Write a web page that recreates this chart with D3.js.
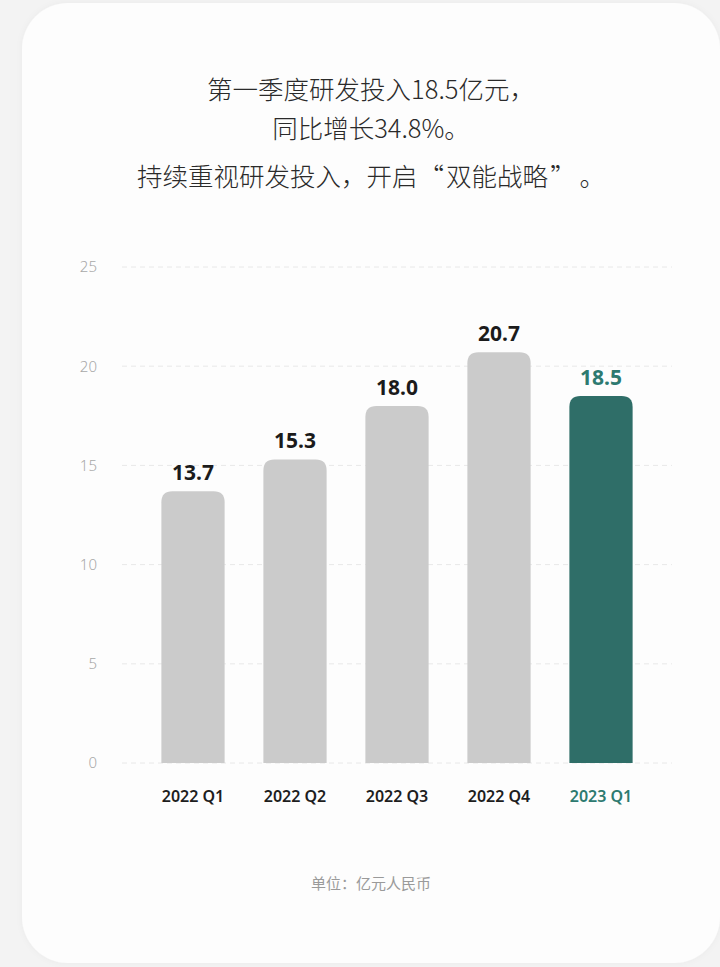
<!DOCTYPE html>
<html>
<head>
<meta charset="utf-8">
<script src="https://cdn.jsdelivr.net/npm/d3@7"></script>
<style>
  html, body { margin: 0; padding: 0; background: #f3f3f3; }
  svg { display: block; }
</style>
</head>
<body>
<svg id="chart" width="720" height="967"></svg>
<script>
const categories = ["2022 Q1", "2022 Q2", "2022 Q3", "2022 Q4", "2023 Q1"];
const values = [13.7, 15.3, 18.0, 20.7, 18.5];
const yTicks = [0, 5, 10, 15, 20, 25];
const titleLines = ["第一季度研发投入18.5亿元，", "同比增长34.8%。", "持续重视研发投入，开启“双能战略”。"];
const unitNote = "单位：亿元人民币";
const highlightIndex = 4;

const svg = d3.select("#chart");
const W = 720, H = 967;
const cjk = "'Noto Sans CJK SC', 'Noto Sans', sans-serif";
const latin = "'Noto Sans', 'Open Sans', sans-serif";
const teal = "#2f6e68";
const grey = "#cbcbcb";

// card
const defs = svg.append("defs");
const f = defs.append("filter").attr("id", "sh").attr("x", "-10%").attr("y", "-10%").attr("width", "120%").attr("height", "120%");
f.append("feDropShadow").attr("dx", 0).attr("dy", 0).attr("stdDeviation", 3).attr("flood-color", "#000").attr("flood-opacity", 0.04);
svg.append("rect").attr("x", 0).attr("y", 0).attr("width", W).attr("height", H).attr("fill", "#f3f3f3");
svg.append("rect").attr("x", 22).attr("y", 3).attr("width", 698).attr("height", 960)
  .attr("rx", 46).attr("fill", "#fdfdfd").attr("filter", "url(#sh)");

// title (full-width quote spacing emulated with small gaps)
const titleY = [99, 138, 186];
const fs = 25.5;
const tg = svg.append("g");
titleLines.forEach((line, i) => {
  const t = tg.append("text")
    .attr("x", 371).attr("y", titleY[i])
    .attr("text-anchor", "middle")
    .attr("font-family", cjk).attr("font-size", fs).attr("font-weight", 300)
    .attr("fill", "#2a2a2a");
  const parts = line.split(/(“|”)/).filter(p => p.length);
  let prev = null;
  parts.forEach((p, j) => {
    let gap = 0;
    if (p === "“") gap = 0.04;
    else if (prev === "“") gap = 0.08;
    else if (p === "”") gap = 0.08;
    else if (prev === "”") gap = 0.65;
    t.append("tspan").attr("dx", j === 0 ? 0 : fs * gap).text(p);
    prev = p;
  });
});

// scales
const y = d3.scaleLinear().domain([0, 25]).range([763, 267]);
const x = d3.scaleBand().domain(categories).range([142, 652]).paddingInner(0.38).paddingOuter(0.19);

// grid
svg.append("g").selectAll("line").data(yTicks).join("line")
  .attr("x1", 122).attr("x2", 672)
  .attr("y1", d => y(d)).attr("y2", d => y(d))
  .attr("stroke", "#e8e8e8").attr("stroke-width", 1).attr("stroke-dasharray", "5,4");

// y axis labels
const yAxis = d3.axisLeft(y).tickValues(yTicks).tickSize(0).tickPadding(0);
const yg = svg.append("g").attr("transform", "translate(97,0)").call(yAxis);
yg.select(".domain").remove();
yg.selectAll("text").attr("font-family", latin).attr("font-size", 15).attr("font-weight", 300).attr("fill", "#a8a8a8");

// bars with rounded top corners
const r = 11;
function barPath(x0, w, yTop, yBase) {
  const rr = Math.min(r, (yBase - yTop));
  return `M${x0},${yBase} L${x0},${yTop + rr} Q${x0},${yTop} ${x0 + rr},${yTop} L${x0 + w - rr},${yTop} Q${x0 + w},${yTop} ${x0 + w},${yTop + rr} L${x0 + w},${yBase} Z`;
}
svg.append("g").selectAll("path").data(values).join("path")
  .attr("d", (d, i) => barPath(x(categories[i]), x.bandwidth(), y(d), y(0)))
  .attr("fill", (d, i) => i === highlightIndex ? teal : grey);

// value labels
svg.append("g").selectAll("text").data(values).join("text")
  .attr("x", (d, i) => x(categories[i]) + x.bandwidth() / 2)
  .attr("y", d => y(d) - 11)
  .attr("text-anchor", "middle")
  .attr("font-family", latin).attr("font-size", 21).attr("font-weight", 700)
  .attr("fill", (d, i) => i === highlightIndex ? "#2d7a70" : "#1b1b1b")
  .text(d => d.toFixed(1));

// x axis labels
const xAxis = d3.axisBottom(x).tickSize(0).tickPadding(0);
const xg = svg.append("g").attr("transform", "translate(0,791)").call(xAxis);
xg.select(".domain").remove();
xg.selectAll("text")
  .attr("dy", "0.71em")
  .attr("font-family", latin).attr("font-size", 16).attr("font-weight", 600)
  .attr("fill", (d, i) => i === highlightIndex ? "#2d7a70" : "#1e1e1e");

// unit note
svg.append("text").attr("x", 371).attr("y", 889)
  .attr("text-anchor", "middle")
  .attr("font-family", cjk).attr("font-size", 15).attr("font-weight", 400)
  .attr("fill", "#9a9a9a")
  .text(unitNote);
</script>
</body>
</html>
